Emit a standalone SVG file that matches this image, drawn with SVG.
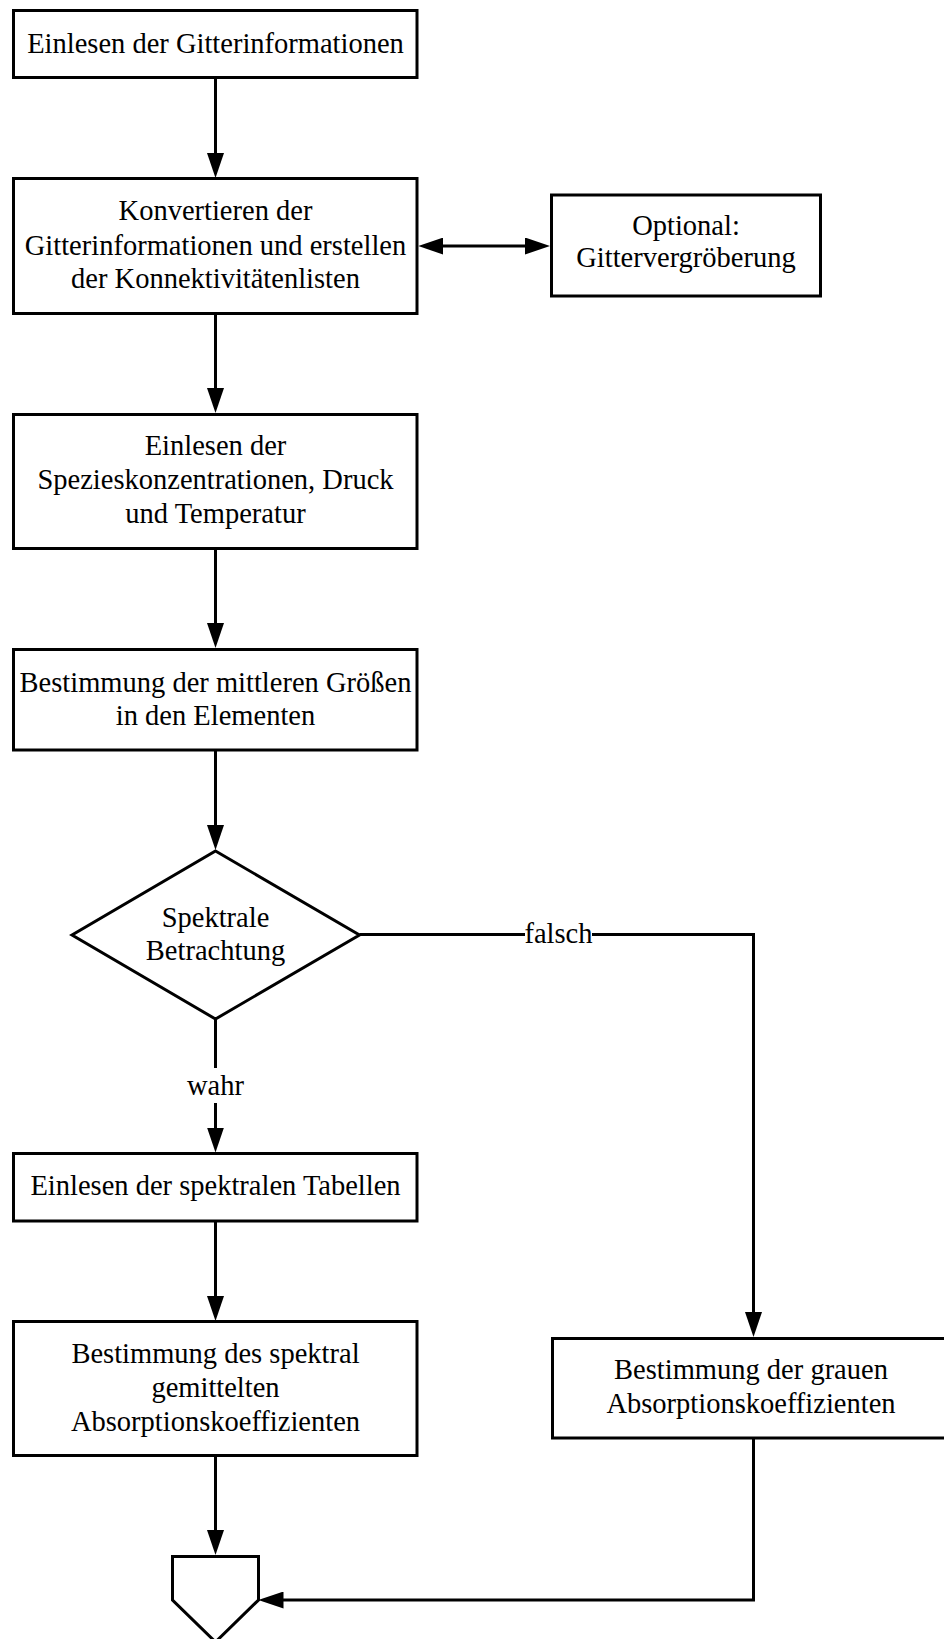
<svg xmlns="http://www.w3.org/2000/svg" width="944" height="1639" viewBox="0 0 944 1639">
  <style>
    .box { fill: #ffffff; stroke: #000000; stroke-width: 3; }
    .lbl { font-family: "Liberation Serif", "Times New Roman", serif; font-size: 28.5px; fill: #000000; text-anchor: middle; }
    .edge { fill: none; stroke: #000000; stroke-width: 3; }
    .arrow { marker-end: url(#head); }
  </style>
  <defs>
    <marker id="head" viewBox="0 0 25 17" refX="15" refY="8.5" markerWidth="25" markerHeight="17" markerUnits="userSpaceOnUse" orient="auto-start-reverse">
      <path d="M0,0 L25,8.5 L0,17 Z" fill="#000000"/>
    </marker>
  </defs>
  <rect width="944" height="1639" fill="#ffffff"/>

  <!-- connectors -->
  <g id="connectors">
    <line class="edge arrow" x1="215.5" y1="77.5" x2="215.5" y2="168"/>
    <line class="edge" x1="428.3" y1="246" x2="540" y2="246" marker-start="url(#head)" marker-end="url(#head)"/>
    <line class="edge arrow" x1="215.5" y1="313.5" x2="215.5" y2="403"/>
    <line class="edge arrow" x1="215.5" y1="548.5" x2="215.5" y2="638"/>
    <line class="edge arrow" x1="215.5" y1="750" x2="215.5" y2="840"/>
    <!-- false branch -->
    <polyline class="edge arrow" points="359.5,934.5 753.5,934.5 753.5,1327"/>
    <rect x="525" y="920" width="67" height="30" fill="#ffffff"/>
    <text class="lbl" x="558.5" y="943">falsch</text>
    <!-- true branch -->
    <line class="edge" x1="215.5" y1="1019" x2="215.5" y2="1068"/>
    <text class="lbl" x="215.5" y="1095">wahr</text>
    <line class="edge arrow" x1="215.5" y1="1103" x2="215.5" y2="1142.5"/>
    <line class="edge arrow" x1="215.5" y1="1221" x2="215.5" y2="1311"/>
    <line class="edge arrow" x1="215.5" y1="1455.5" x2="215.5" y2="1545"/>
    <polyline class="edge arrow" points="753.5,1438 753.5,1600 268.5,1600"/>
  </g>

  <g id="n1">
    <rect class="box" x="13.5" y="10.5" width="403.5" height="67"/>
    <text class="lbl" x="215.5" y="52.7">Einlesen der Gitterinformationen</text>
  </g>

  <g id="n2">
    <rect class="box" x="13.5" y="178.5" width="403.5" height="135"/>
    <text class="lbl" x="215.5" y="220">Konvertieren der</text>
    <text class="lbl" x="215.5" y="254.5">Gitterinformationen und erstellen</text>
    <text class="lbl" x="215.5" y="288.3">der Konnektivitätenlisten</text>
  </g>

  <g id="n2opt">
    <rect class="box" x="551.5" y="195" width="269" height="101"/>
    <text class="lbl" x="686" y="235">Optional:</text>
    <text class="lbl" x="686" y="267">Gittervergröberung</text>
  </g>

  <g id="n3">
    <rect class="box" x="13.5" y="414.5" width="403.5" height="134"/>
    <text class="lbl" x="215.5" y="455">Einlesen der</text>
    <text class="lbl" x="215.5" y="489.3">Spezieskonzentrationen, Druck</text>
    <text class="lbl" x="215.5" y="523.3">und Temperatur</text>
  </g>

  <g id="n4">
    <rect class="box" x="13.5" y="649.5" width="403.5" height="100.5"/>
    <text class="lbl" x="215.5" y="691.7">Bestimmung der mittleren Größen</text>
    <text class="lbl" x="215.5" y="725">in den Elementen</text>
  </g>

  <g id="decision">
    <polygon class="box" points="215.5,851 359.5,935 215.5,1019 72,935"/>
    <text class="lbl" x="215.5" y="926.7">Spektrale</text>
    <text class="lbl" x="215.5" y="960">Betrachtung</text>
  </g>

  <g id="n5">
    <rect class="box" x="13.5" y="1153.5" width="403.5" height="67.5"/>
    <text class="lbl" x="215.5" y="1195">Einlesen der spektralen Tabellen</text>
  </g>

  <g id="n6">
    <rect class="box" x="13.5" y="1321.5" width="403.5" height="134"/>
    <text class="lbl" x="215.5" y="1362.7">Bestimmung des spektral</text>
    <text class="lbl" x="215.5" y="1396.7">gemittelten</text>
    <text class="lbl" x="215.5" y="1431">Absorptionskoeffizienten</text>
  </g>

  <g id="n7">
    <rect class="box" x="552.5" y="1338.5" width="402" height="99.5"/>
    <text class="lbl" x="751" y="1379.3">Bestimmung der grauen</text>
    <text class="lbl" x="751" y="1413.3">Absorptionskoeffizienten</text>
  </g>

  <g id="offpage">
    <polygon class="box" points="172.5,1556.5 258.5,1556.5 258.5,1600 215.5,1642 172.5,1600"/>
  </g>
</svg>
